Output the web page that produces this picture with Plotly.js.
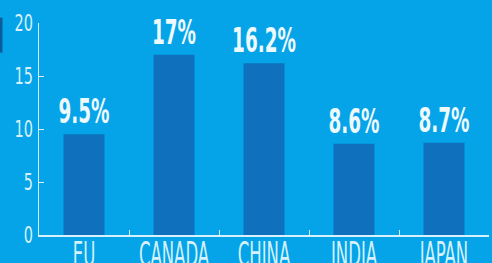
<!DOCTYPE html>
<html>
<head>
<meta charset="utf-8">
<script src="https://cdn.plot.ly/plotly-3.0.1.min.js"></script>
<style>html,body{margin:0;padding:0;background:#05a4e8;}#chart{width:492px;height:263px;}</style>
</head>
<body>
<div id="chart"></div>
<script>
const categories = ["EU", "CANADA", "CHINA", "INDIA", "JAPAN"];
const values = [9.5, 17, 16.2, 8.6, 8.7];
const labels = ["9.5%", "17%", "16.2%", "8.6%", "8.7%"];
const yTicks = [0, 5, 10, 15, 20];

const FONT = '"DejaVu Sans Condensed", "DejaVu Sans", sans-serif';
const LIGHT = '#d6f1fb';

Plotly.newPlot('chart', [{
  type: 'bar',
  x: categories,
  y: values,
  text: labels,
  textposition: 'outside',
  constraintext: 'none',
  cliponaxis: false,
  textfont: {family: FONT, size: 33, color: '#eef9fd', weight: 'bold'},
  marker: {color: '#0f71bd'},
  hoverinfo: 'none'
}], {
  width: 492, height: 263,
  margin: {l: 39, r: 3, t: 23, b: 28},
  paper_bgcolor: '#05a4e8',
  plot_bgcolor: '#05a4e8',
  bargap: 0.545,
  showlegend: false,
  font: {family: FONT, color: LIGHT},
  xaxis: {
    showline: true, linecolor: LIGHT, linewidth: 1.5,
    ticks: 'inside', tickson: 'boundaries', ticklen: 5, tickcolor: LIGHT, tickwidth: 1,
    tickangle: 0,
    tickfont: {family: FONT, size: 34, color: LIGHT},
    showgrid: false, zeroline: false, fixedrange: true
  },
  yaxis: {
    range: [0, 20],
    tickvals: yTicks,
    showline: true, linecolor: LIGHT, linewidth: 1.5,
    ticks: 'inside', ticklen: 5, tickcolor: LIGHT, tickwidth: 1,
    tickfont: {family: FONT, size: 23, color: LIGHT},
    showgrid: false, zeroline: false, fixedrange: true
  },
  shapes: [{
    type: 'rect', xref: 'paper', yref: 'paper',
    x0: -39/450, x1: -36.5/450, y0: 0.86, y1: 1.025,
    fillcolor: '#0c5c9c', line: {width: 0}, layer: 'below'
  }]
}, {displayModeBar: false, staticPlot: true}).then(function (gd) {
  function squeeze(sel, f, dy) {
    gd.querySelectorAll(sel).forEach(function (t) {
      const w = t.getComputedTextLength();
      t.setAttribute('textLength', (w * f).toFixed(1));
      t.setAttribute('lengthAdjust', 'spacingAndGlyphs');
      if (dy) t.setAttribute('dy', dy);
    });
  }
  squeeze('.xtick text', 0.54, -11);
  squeeze('.ytick text', 0.7, 0);
  squeeze('.bartext', 0.62, 0);
});
</script>
</body>
</html>
